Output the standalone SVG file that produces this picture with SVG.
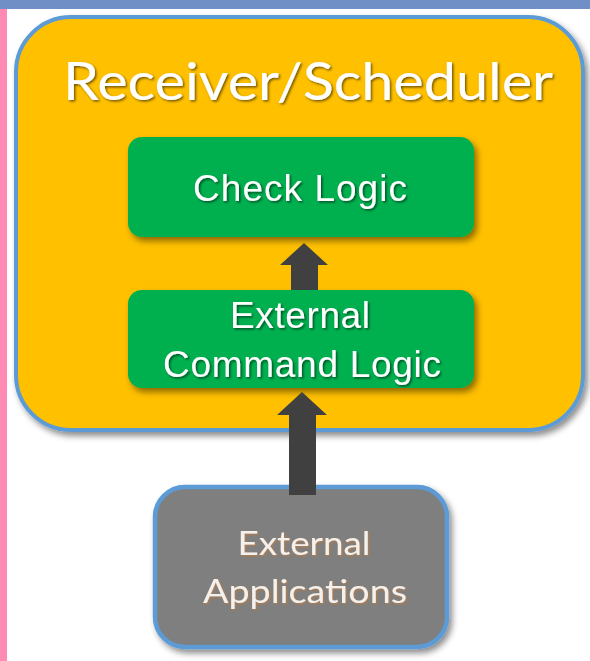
<svg xmlns="http://www.w3.org/2000/svg" width="590" height="661" viewBox="0 0 590 661">
<defs>
<style>
.title{font-family:Lato,"Open Sans","Liberation Sans",sans-serif;font-size:52px;fill:#fff;text-anchor:middle}
.gtxt{font-family:"Liberation Sans",Arial,sans-serif;font-size:37px;fill:#fff;text-anchor:middle}
.atxt{font-family:Lato,"Open Sans","Liberation Sans",sans-serif;font-size:33px;fill:#f4f1ec;text-anchor:middle}
.arrow{fill:#404040}
</style>
<filter id="boxsh" x="-10%" y="-10%" width="125%" height="130%">
<feDropShadow dx="3" dy="4" stdDeviation="3" flood-color="#000" flood-opacity="0.45"/>
</filter>
<filter id="txtsh" x="-5%" y="-20%" width="115%" height="150%">
<feDropShadow dx="1.5" dy="1.5" stdDeviation="0.8" flood-color="#000" flood-opacity="0.55"/>
</filter>
<filter id="glow" x="-5%" y="-20%" width="115%" height="150%">
<feDropShadow dx="1" dy="1" stdDeviation="1" flood-color="#c87a30" flood-opacity="0.8"/>
</filter>
</defs>
<rect x="0" y="0" width="590" height="661" fill="#ffffff"/>
<rect x="0" y="0" width="590" height="9" fill="#6f8fc6"/>
<rect x="0" y="9" width="7" height="652" fill="#ff8ab4"/>

<g id="receiver-scheduler">
<rect x="16" y="17" width="567" height="413" rx="55" fill="#ffc000" stroke="#5b9bd5" stroke-width="4" filter="url(#boxsh)"/>
<text class="title" x="308" y="100" textLength="490" lengthAdjust="spacingAndGlyphs" filter="url(#txtsh)">Receiver/Scheduler</text>
</g>

<g id="check-logic">
<rect x="128" y="137" width="346" height="100" rx="14" fill="#00b050" filter="url(#boxsh)"/>
<text class="gtxt" x="300" y="201" textLength="214" filter="url(#txtsh)">Check Logic</text>
</g>

<g id="external-command-logic">
<rect x="128" y="290" width="346" height="98" rx="14" fill="#00b050" filter="url(#boxsh)"/>
<text class="gtxt" x="300" y="328" textLength="140" filter="url(#txtsh)">External</text>
<text class="gtxt" x="302" y="377" textLength="278" filter="url(#txtsh)">Command Logic</text>
</g>

<g id="external-applications">
<rect x="155" y="487" width="292" height="160" rx="30" fill="#7f7f7f" stroke="#5b9bd5" stroke-width="4.5" filter="url(#boxsh)"/>
<text class="atxt" x="304" y="555" textLength="133" lengthAdjust="spacingAndGlyphs" filter="url(#glow)">External</text>
<text class="atxt" x="305" y="603" textLength="204" lengthAdjust="spacingAndGlyphs" filter="url(#glow)">Applications</text>
</g>

<g id="connectors">
<polygon class="arrow" points="291,290 291,265 280,265 304,243 328,265 318,265 318,290"/>
<polygon class="arrow" points="289,495 289,415 277,415 302,392 327,415 316,415 316,495"/>
</g>
</svg>
